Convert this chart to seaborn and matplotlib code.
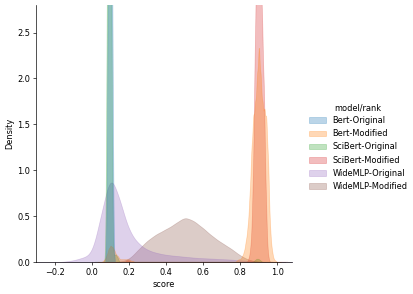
import numpy as np
import pandas as pd
import matplotlib
matplotlib.use("Agg")
import matplotlib.pyplot as plt
from matplotlib.colors import to_rgba
from matplotlib.patches import Patch
import seaborn as sns

# hue levels, in legend order
models = ['Bert-Original', 'Bert-Modified', 'SciBert-Original',
          'SciBert-Modified', 'WideMLP-Original', 'WideMLP-Modified']

# binned scores (bin centre) and number of documents in each bin
bert_orig_scores = [0.09, 0.10, 0.11]
bert_orig_counts = [240, 270, 230]

bert_mod_scores = [0.06, 0.07, 0.08, 0.09, 0.10, 0.11, 0.12, 0.13, 0.14, 0.15,
                   0.16, 0.17, 0.18, 0.19, 0.20, 0.21, 0.22,
                   0.78, 0.79, 0.80, 0.81, 0.82, 0.83, 0.84, 0.85, 0.86, 0.87,
                   0.88, 0.89, 0.90, 0.91, 0.92, 0.93, 0.94, 0.95, 0.96, 0.97,
                   0.98, 0.99]
bert_mod_counts = [1, 2, 5, 9, 11, 10, 8, 5, 4, 2,
                   2, 2, 2, 2, 2, 1, 1,
                   1, 2, 2, 4, 7, 14, 23, 43, 74, 96,
                   102, 120, 143, 120, 102, 99, 96, 67, 22, 8,
                   2, 1]

scibert_orig_scores = [0.085, 0.095, 0.105, 0.12, 0.13, 0.14,
                       0.88, 0.89, 0.90, 0.91]
scibert_orig_counts = [230, 250, 220, 4, 5, 3,
                       1, 2, 2, 1]

scibert_mod_scores = [0.19, 0.20, 0.85, 0.86, 0.87, 0.88, 0.89, 0.90, 0.91,
                      0.92, 0.93, 0.94, 0.95]
scibert_mod_counts = [1, 1, 3, 12, 48, 132, 216, 240, 216,
                      156, 114, 42, 6]

widemlp_orig_scores = [-0.15, -0.10, -0.05, 0.00, 0.05, 0.10, 0.15, 0.20, 0.25,
                       0.30, 0.35, 0.40, 0.45, 0.50, 0.55, 0.60, 0.65, 0.70,
                       0.75, 0.80, 0.85, 0.90, 0.95]
widemlp_orig_counts = [2, 6, 15, 24, 156, 300, 204, 99, 60,
                       39, 30, 24, 21, 18, 15, 13, 12, 10,
                       9, 6, 5, 2, 1]

widemlp_mod_scores = [0.15, 0.20, 0.25, 0.30, 0.35, 0.40, 0.45, 0.50, 0.55,
                      0.60, 0.65, 0.70, 0.75, 0.80, 0.85, 0.90]
widemlp_mod_counts = [1, 9, 42, 72, 93, 108, 126, 150, 135,
                      111, 84, 63, 45, 21, 6, 2]

scores = [bert_orig_scores, bert_mod_scores, scibert_orig_scores,
          scibert_mod_scores, widemlp_orig_scores, widemlp_mod_scores]
counts = [bert_orig_counts, bert_mod_counts, scibert_orig_counts,
          scibert_mod_counts, widemlp_orig_counts, widemlp_mod_counts]

# kernel width for each model (score units)
bandwidth = {'Bert-Original': 0.005, 'Bert-Modified': 0.005,
             'SciBert-Original': 0.005, 'SciBert-Modified': 0.005,
             'WideMLP-Original': 0.03, 'WideMLP-Modified': 0.03}


def build_frame():
    frames = []
    for name, s, c in zip(models, scores, counts):
        frames.append(pd.DataFrame({'score': s, 'count': c, 'model/rank': name}))
    return pd.concat(frames, ignore_index=True)


def plot_data(df, output_path):
    dpi = 59.5
    fig = plt.figure(figsize=(413 / dpi, 294 / dpi))
    ax = fig.add_axes([0.087, 0.108, 0.621, 0.875])

    palette = dict(zip(models, sns.color_palette('tab10', len(models))))

    # one call per level so each gets its own bandwidth; hue_order keeps
    # the normalisation common across all models
    for name in reversed(models):
        sub = df[df['model/rank'] == name]
        std = np.sqrt(np.cov(sub['score'], aweights=sub['count']))
        color = palette[name]
        sns.kdeplot(data=df, x='score', hue='model/rank', hue_order=[name],
                    weights='count', palette={name: color}, fill=True,
                    common_norm=True, bw_method=bandwidth[name] / std,
                    gridsize=1000, alpha=0.3, linewidth=0.8,
                    edgecolor=to_rgba(color, 0.3), legend=False, ax=ax)

    ax.set_xlim(-0.3025, 1.081)
    ax.set_ylim(0, 2.8)
    ax.set_xlabel('score')
    ax.set_ylabel('Density')
    sns.despine(ax=ax)

    handles = [Patch(facecolor=to_rgba(palette[m], 0.3),
                     edgecolor=to_rgba(palette[m], 0.35), linewidth=0.8)
               for m in models]
    fig.legend(handles, models, title='model/rank', loc='center left',
               bbox_to_anchor=(0.7305, 0.5), frameon=False)

    fig.savefig(output_path, dpi=dpi)


df = build_frame()
plot_data(df, 'out.png')
